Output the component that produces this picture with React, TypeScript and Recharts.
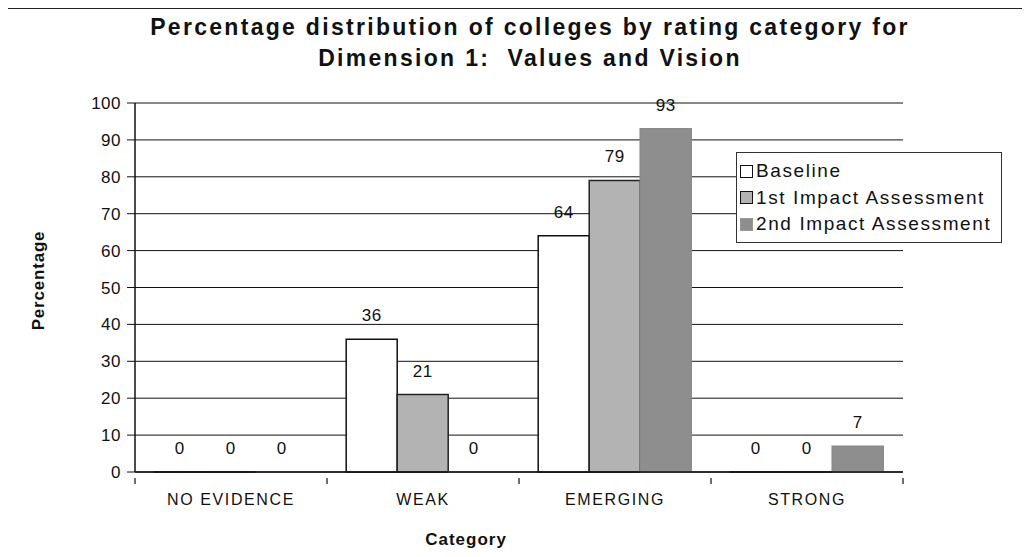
import React from "react";
import {
  BarChart,
  Bar,
  XAxis,
  YAxis,
  CartesianGrid,
  Legend,
  LabelList,
} from "recharts";

const categories = ["NO EVIDENCE", "WEAK", "EMERGING", "STRONG"];
const baseline = [0, 36, 64, 0];
const firstImpact = [0, 21, 79, 0];
const secondImpact = [0, 0, 93, 7];
const yTicks = [0, 10, 20, 30, 40, 50, 60, 70, 80, 90, 100];

const seriesInfo = [
  { key: "baseline", name: "Baseline", fill: "#ffffff", stroke: "#111" },
  { key: "first", name: "1st Impact Assessment", fill: "#b3b3b3", stroke: "#222" },
  { key: "second", name: "2nd Impact Assessment", fill: "#8e8e8e", stroke: "#8a8a8a" },
];

const data = categories.map((c, i) => ({
  category: c,
  baseline: baseline[i],
  first: firstImpact[i],
  second: secondImpact[i],
}));

const FONT = "'Liberation Sans', Arial, sans-serif";

function LegendBox() {
  return (
    <div
      style={{
        border: "1px solid #333",
        background: "#fff",
        padding: "5px 3px",
        fontFamily: FONT,
        fontSize: 19,
        letterSpacing: 1.6,
        color: "#111",
        boxSizing: "border-box",
        width: 266,
        height: 91,
        whiteSpace: "nowrap",
      }}
    >
      {seriesInfo.map((s) => (
        <div key={s.key} style={{ display: "flex", alignItems: "center", height: 26.5 }}>
          <span
            style={{
              display: "inline-block",
              width: 11,
              height: 11,
              background: s.fill,
              border: "1.5px solid " + (s.key === "second" ? "#999" : "#111"),
              marginRight: 3,
            }}
          />
          {s.name}
        </div>
      ))}
    </div>
  );
}

function YTitle(props: any) {
  const vb = props.viewBox;
  const cx = vb.x + 38;
  const cy = vb.y + vb.height / 2 - 7;
  return (
    <text
      x={cx}
      y={cy}
      transform={`rotate(-90, ${cx}, ${cy})`}
      textAnchor="middle"
      dominantBaseline="central"
      fontFamily={FONT}
      fontWeight="bold"
      fontSize={17}
      letterSpacing={0.8}
      fill="#111"
    >
      Percentage
    </text>
  );
}

// category label plus Excel-style tick marks on the band edges
function CategoryTick(props: any) {
  const { x, y, payload, index } = props;
  const half = Number(payload?.offset) || 0;
  const top = y - 16;
  return (
    <g>
      {half > 0 && (
        <line x1={x - half} x2={x - half} y1={top} y2={top + 6} stroke="#111" strokeWidth={1.2} />
      )}
      {half > 0 && index === categories.length - 1 && (
        <line x1={x + half} x2={x + half} y1={top} y2={top + 6} stroke="#111" strokeWidth={1.2} />
      )}
      <text
        x={x}
        y={y}
        dy="0.71em"
        textAnchor="middle"
        fill="#111"
        fontSize={16}
        fontFamily={FONT}
        letterSpacing={1.6}
      >
        {payload.value}
      </text>
    </g>
  );
}

function ValueLabel(props: any) {
  const { x, y, width, value } = props;
  return (
    <text
      x={Number(x) + Number(width) / 2}
      y={Number(y) - 18}
      textAnchor="middle"
      fill="#111"
      fontSize={17}
      fontFamily={FONT}
      letterSpacing={0.5}
    >
      {String(value)}
    </text>
  );
}

export default function App() {
  return (
    <div
      style={{
        position: "relative",
        marginLeft: -8,
        marginTop: -8,
        width: 1030,
        height: 557,
        overflow: "hidden",
        background: "#fff",
      }}
    >
      <div
        style={{
          position: "absolute",
          left: 6,
          top: 8,
          width: 1060,
          height: 600,
          border: "1px solid #222",
        }}
      />
      <div
        style={{
          position: "absolute",
          left: 0,
          width: 1060,
          top: 12,
          textAlign: "center",
          fontFamily: FONT,
          fontWeight: "bold",
          fontSize: 23,
          letterSpacing: 2.3,
          lineHeight: "31px",
          color: "#111",
          whiteSpace: "nowrap",
        }}
      >
        Percentage distribution of colleges by rating category for
        <br />
        Dimension 1:&nbsp; Values and Vision
      </div>
      <BarChart
        width={1030}
        height={557}
        data={data}
        margin={{ top: 103, right: 127, bottom: 0, left: 0 }}
        barCategoryGap="10%"
        barGap={0}
        style={{ position: "absolute", left: 0, top: 0 }}
      >
        <CartesianGrid vertical={false} stroke="#111" strokeWidth={1} />
        <XAxis
          dataKey="category"
          height={85}
          tickLine={false}
          axisLine={{ stroke: "#111", strokeWidth: 1.5 }}
          tickMargin={16}
          interval={0}
          tick={<CategoryTick />}
          label={{
            value: "Category",
            position: "insideBottom",
            offset: 12,
            dx: -53,
            fill: "#111",
            fontSize: 17,
            fontWeight: "bold",
            fontFamily: FONT,
            letterSpacing: 1,
          }}
        />
        <YAxis
          width={135}
          domain={[0, 100]}
          ticks={yTicks}
          interval={0}
          tickSize={8}
          tickMargin={6}
          axisLine={{ stroke: "#111", strokeWidth: 1.5 }}
          tickLine={{ stroke: "#111" }}
          tick={{ fill: "#111", fontSize: 17, fontFamily: FONT, letterSpacing: 0.5 }}
          label={<YTitle />}
        />
        <YAxis
          yAxisId="frame"
          orientation="right"
          width={0}
          domain={[0, 100]}
          tick={false}
          tickLine={false}
          axisLine={{ stroke: "#111", strokeWidth: 1.5 }}
        />
        <Legend
          layout="vertical"
          align="center"
          verticalAlign="middle"
          content={() => <LegendBox />}
          wrapperStyle={{ left: 736, top: 152, width: 266, height: 91 }}
        />
        {seriesInfo.map((s) => (
          <Bar
            key={s.key}
            dataKey={s.key}
            name={s.name}
            fill={s.fill}
            stroke={s.stroke}
            strokeWidth={1.5}
            minPointSize={0.1}
            isAnimationActive={false}
          >
            <LabelList dataKey={s.key} content={<ValueLabel />} />
          </Bar>
        ))}
      </BarChart>
    </div>
  );
}
